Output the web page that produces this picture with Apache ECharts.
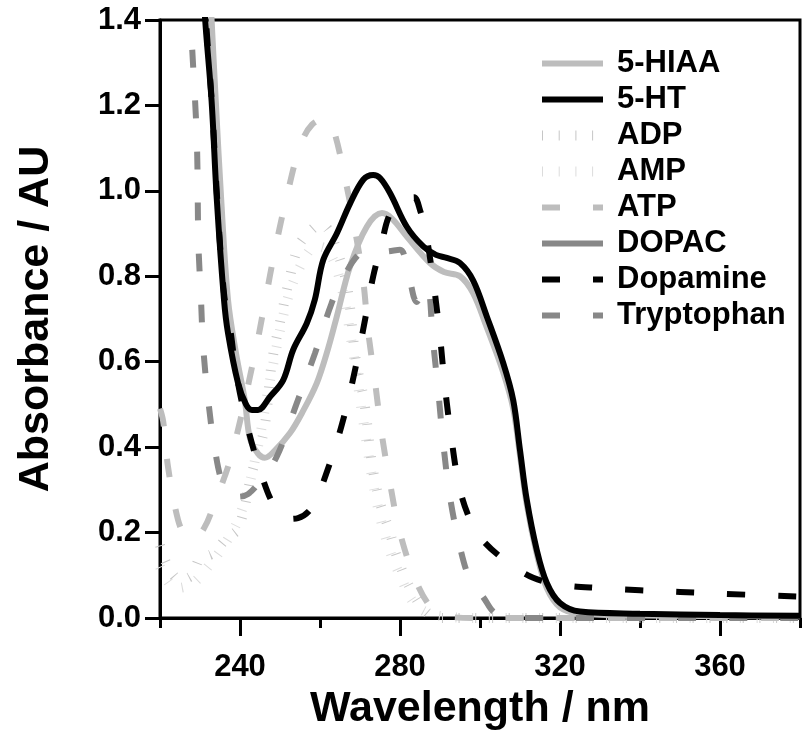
<!DOCTYPE html>
<html><head><meta charset="utf-8">
<script src="https://cdn.jsdelivr.net/npm/echarts@6/dist/echarts.min.js"></script>
<style>html,body{margin:0;padding:0;background:#fff}#c{width:802px;height:742px}</style>
</head><body><div id="c"></div>
<script>
// ---- data ----
var xMajorTicks = [240, 280, 320, 360];
var xMinorTicks = [220, 260, 300, 340, 380];
var legendOrder = ['5-HIAA', '5-HT', 'ADP', 'AMP', 'ATP', 'DOPAC', 'Dopamine', 'Tryptophan'];

var ht5 = [[230.8,1.5],[231.3,1.40],[232.9,1.21],[234.2,0.98],[236,0.745],[237,0.667],[239.5,0.55],[241.5,0.50],[243,0.487],[244.5,0.487],[247.5,0.518],[250.8,0.557],[253.3,0.628],[256.7,0.69],[258.7,0.745],[260.8,0.838],[264.2,0.90],[267.5,0.97],[270.8,1.026],[273.3,1.037],[275,1.03],[277.5,0.995],[281.7,0.916],[285.8,0.87],[289,0.85],[291.7,0.843],[295,0.831],[298.3,0.79],[301.7,0.706],[305.8,0.597],[308.3,0.51],[310,0.393],[311.7,0.276],[314.2,0.159],[316.7,0.082],[320,0.035],[325,0.015],[340,0.01],[360,0.007],[380,0.005]];
var hiaa5 = [[232.4,1.5],[232.9,1.40],[234,1.2],[235.3,0.98],[237,0.745],[239,0.62],[241.2,0.51],[242.5,0.42],[244.5,0.385],[246.2,0.375],[248.5,0.39],[252.5,0.433],[255.5,0.48],[259.2,0.55],[262,0.63],[264.2,0.706],[267.5,0.823],[271.7,0.916],[275.5,0.948],[278,0.935],[281.7,0.893],[287.5,0.831],[291,0.81],[295,0.80],[298.3,0.76],[301.7,0.68],[305.8,0.575],[308.3,0.49],[310,0.38],[311.7,0.265],[314.2,0.15],[316.7,0.07],[320,0.025],[325,0.01],[340,0.006],[380,0.004]];
var adp = [[220,0.17],[222,0.12],[225,0.09],[228,0.1],[230,0.14],[233,0.15],[236.7,0.187],[239.6,0.21],[243,0.34],[246,0.44],[248,0.6],[250.4,0.71],[252.5,0.80],[254.6,0.87],[257,0.9],[260,0.92],[262,0.91],[264,0.866],[266.7,0.78],[269,0.6],[271,0.51],[273,0.36],[275,0.27],[277.5,0.2],[279,0.15],[282,0.08],[286,0.02],[290,0],[380,0]];
var amp = [[220,0.12],[224,0.07],[228,0.08],[232,0.12],[236,0.17],[240,0.24],[244,0.38],[248,0.58],[252,0.75],[256,0.84],[259,0.87],[262,0.86],[265,0.79],[268,0.64],[271,0.45],[274,0.28],[277,0.17],[280,0.1],[284,0.03],[290,0.005],[300,0],[380,0]];
var atp = [[220,0.49],[220.8,0.46],[222,0.354],[224.5,0.23],[226.5,0.19],[228.5,0.185],[231,0.21],[233.3,0.26],[237.9,0.382],[243.75,0.62],[246.25,0.74],[248.75,0.862],[251.7,0.987],[255,1.104],[258,1.155],[261.7,1.17],[263.5,1.14],[266.25,1.03],[268.75,0.909],[270.8,0.79],[272,0.674],[273.75,0.553],[275.4,0.433],[277.5,0.316],[280,0.199],[284.2,0.082],[288.3,0.019],[292,0.003],[300,0],[380,0]];
var dopac = [];
var dopamine = [[231.0,1.5],[231.5,1.40],[233,1.2],[234.3,0.98],[236,0.76],[237.5,0.68],[239.2,0.565],[242.1,0.44],[245.8,0.323],[249,0.255],[252,0.232],[254.5,0.234],[258,0.26],[262.5,0.363],[266.25,0.48],[269.2,0.60],[271.7,0.72],[273.3,0.80],[275.5,0.88],[277,0.935],[279,0.965],[281.5,0.98],[283.5,0.985],[285,0.955],[286.5,0.9],[288.3,0.79],[290,0.659],[291.25,0.54],[292.9,0.417],[295,0.30],[298,0.22],[301.25,0.176],[307,0.13],[313.3,0.094],[320,0.078],[330,0.07],[340,0.065],[360,0.057],[380,0.05]];
var tryptophan = [[227.5,1.45],[227.9,1.36],[229.2,1.12],[229.6,0.878],[230.2,0.757],[230.8,0.635],[232,0.515],[233.75,0.393],[236,0.31],[239.6,0.284],[242,0.29],[245,0.32],[249.2,0.378],[254.2,0.503],[258.75,0.62],[262.9,0.737],[266,0.8],[270,0.854],[273,0.86],[276,0.858],[280,0.862],[282,0.81],[284.2,0.74],[285.5,0.76],[286.8,0.78],[288.3,0.644],[289.6,0.527],[290.8,0.41],[292.5,0.283],[295,0.166],[297.5,0.09],[300.8,0.049],[304,0.01],[310,0],[380,0]];

// ---- chart ----
var FONT = '"Liberation Sans", Arial, Helvetica, sans-serif';
var chart = echarts.init(document.getElementById('c'), null, {renderer: 'canvas'});
var seriesDefs = [
  {name: 'AMP', data: amp, color: '#dcdcdc', width: 10, type: [1, 15.7]},
  {name: 'ADP', data: adp, color: '#c6c6c6', width: 10, type: [1, 15.7]},
  {name: '5-HIAA', data: hiaa5, color: '#bdbdbd', width: 6, type: 'solid'},
  {name: 'ATP', data: atp, color: '#bdbdbd', width: 6, type: [18, 33]},
  {name: 'DOPAC', data: dopac, color: '#888888', width: 6, type: 'solid'},
  {name: 'Tryptophan', data: tryptophan, color: '#888888', width: 6, type: [18, 33]},
  {name: 'Dopamine', data: dopamine, color: '#000000', width: 6, type: [18, 33]},
  {name: '5-HT', data: ht5, color: '#000000', width: 6, type: 'solid'}
];
var series = seriesDefs.map(function (d, i) {
  return {name: d.name, type: 'line', data: d.data, smooth: 0.35, symbol: 'none',
    clip: true, z: i + 1, lineStyle: {color: d.color, width: d.width, type: d.type, cap: 'butt'},
    itemStyle: {color: d.color, opacity: 0}, emphasis: {disabled: true}, animation: false};
});
var legendData = legendOrder.map(function (n) {
  var d = seriesDefs.filter(function (s) { return s.name === n; })[0];
  return {name: n, lineStyle: {width: d.width, color: d.color, type: d.type, cap: 'butt'}, itemStyle: {opacity: 0}};
});
var option = {
  animation: false,
  grid: {left: 160, top: 20, right: 2, bottom: 124, show: true, borderColor: '#000', borderWidth: 3, backgroundColor: 'transparent'},
  legend: {
    data: legendData, orient: 'vertical', left: 537, top: 48, padding: 0,
    itemWidth: 61, itemHeight: 14, itemGap: 5,
    itemStyle: {opacity: 0},
    lineStyle: {width: 6},
    textStyle: {fontFamily: FONT, fontWeight: 'bold', fontSize: 31, color: '#000', lineHeight: 31, padding: [0, 0, 0, 9]},
    selectedMode: false
  },
  xAxis: [{
    type: 'value', min: 220, max: 380, position: 'bottom',
    name: 'Wavelength / nm', nameLocation: 'middle', nameGap: 70,
    nameTextStyle: {fontFamily: FONT, fontWeight: 'bold', fontSize: 43, color: '#000'},
    axisLine: {show: true, onZero: false, lineStyle: {color: '#000', width: 3}},
    axisTick: {show: true, inside: false, length: 18, customValues: xMajorTicks, lineStyle: {color: '#000', width: 3}},
    axisLabel: {show: true, customValues: xMajorTicks, margin: 34, fontFamily: FONT, fontWeight: 'bold', fontSize: 31, color: '#000'},
    splitLine: {show: false}
  }, {
    type: 'value', min: 220, max: 380, position: 'bottom',
    axisLine: {show: false},
    axisTick: {show: true, length: 10, customValues: xMinorTicks, lineStyle: {color: '#000', width: 3}},
    axisLabel: {show: false},
    splitLine: {show: false}
  }],
  yAxis: {
    type: 'value', min: 0, max: 1.4, interval: 0.2,
    name: 'Absorbance / AU', nameLocation: 'middle', nameGap: 102, nameRotate: 90,
    nameTextStyle: {fontFamily: FONT, fontWeight: 'bold', fontSize: 43, color: '#000'},
    axisLine: {show: true, onZero: false, lineStyle: {color: '#000', width: 3}},
    axisTick: {show: true, length: 15, lineStyle: {color: '#000', width: 3}},
    axisLabel: {margin: 19, fontFamily: FONT, fontWeight: 'bold', fontSize: 31, color: '#000',
      formatter: function (v) { return v.toFixed(1); }},
    splitLine: {show: false}
  },
  series: series
};
chart.setOption(option);
</script>
</body></html>
